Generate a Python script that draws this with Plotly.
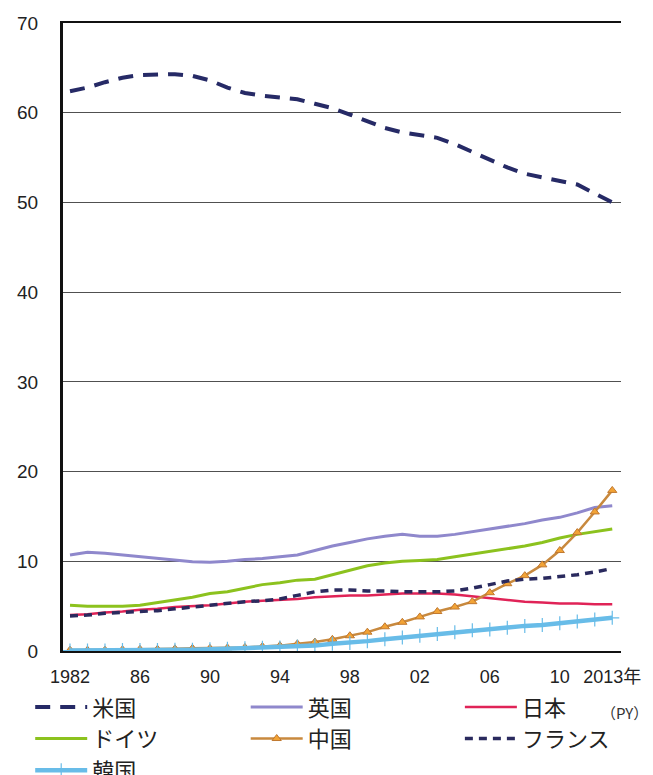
import plotly.graph_objects as go

# share of world TFP (%), 1982-2013
years = list(range(1982, 2014))

us = [62.4, 62.8, 63.4, 63.9, 64.2, 64.3, 64.3, 64.1, 63.6, 62.8, 62.2, 61.9, 61.7, 61.5, 61.0, 60.5,
      59.8, 59.1, 58.3, 57.8, 57.5, 57.2, 56.5, 55.6, 54.8, 53.9, 53.2, 52.8, 52.5, 52.0, 51.0, 50.0]
uk = [10.7, 11.0, 10.9, 10.7, 10.5, 10.3, 10.1, 9.95, 9.9, 10.0, 10.2, 10.3, 10.5, 10.7, 11.2, 11.7,
      12.1, 12.5, 12.8, 13.0, 12.8, 12.8, 13.0, 13.3, 13.6, 13.9, 14.2, 14.6, 14.9, 15.4, 16.0, 16.2]
japan = [4.0, 4.1, 4.3, 4.4, 4.6, 4.7, 4.9, 5.0, 5.1, 5.3, 5.5, 5.6, 5.7, 5.8, 6.0, 6.1,
         6.2, 6.2, 6.3, 6.4, 6.4, 6.4, 6.3, 6.1, 5.9, 5.7, 5.5, 5.4, 5.3, 5.3, 5.2, 5.2]
germany = [5.1, 5.0, 5.0, 5.0, 5.1, 5.4, 5.7, 6.0, 6.4, 6.6, 7.0, 7.4, 7.6, 7.9, 8.0, 8.5,
           9.0, 9.5, 9.8, 10.0, 10.1, 10.2, 10.5, 10.8, 11.1, 11.4, 11.7, 12.1, 12.6, 13.0, 13.3, 13.6]
china = [0.1, 0.1, 0.1, 0.15, 0.2, 0.2, 0.25, 0.3, 0.3, 0.35, 0.4, 0.5, 0.6, 0.8, 1.0, 1.3,
         1.7, 2.1, 2.7, 3.2, 3.8, 4.4, 4.9, 5.5, 6.5, 7.5, 8.4, 9.6, 11.2, 13.2, 15.5, 17.9]
france = [3.9, 4.0, 4.2, 4.3, 4.4, 4.5, 4.7, 4.9, 5.1, 5.3, 5.5, 5.6, 5.8, 6.2, 6.6, 6.8,
          6.8, 6.7, 6.7, 6.6, 6.6, 6.6, 6.7, 7.0, 7.4, 7.8, 8.0, 8.1, 8.3, 8.5, 8.8, 9.2]
korea = [0.05, 0.05, 0.05, 0.1, 0.1, 0.1, 0.15, 0.15, 0.2, 0.25, 0.3, 0.35, 0.4, 0.5, 0.6, 0.8,
         0.9, 1.1, 1.3, 1.5, 1.7, 1.9, 2.1, 2.3, 2.4, 2.6, 2.8, 2.9, 3.1, 3.3, 3.5, 3.7]

tick_years = [1982, 1986, 1990, 1994, 1998, 2002, 2006, 2010, 2013]
tick_text = ["1982", "86", "90", "94", "98", "02", "06", "10", "2013年"]

FONT = "Liberation Sans, Arial, Noto Sans CJK JP"
JP = "Noto Sans CJK JP"

fig = go.Figure()
# legend columns: legend = left, legend2 = middle, legend3 = right
fig.add_trace(go.Scatter(x=years, y=us, name="米国", mode="lines", legend="legend",
                         line=dict(color="#262A66", width=4, dash="15px,10px")))
fig.add_trace(go.Scatter(x=years, y=uk, name="英国", mode="lines", legend="legend2",
                         line=dict(color="#8F88CC", width=3)))
fig.add_trace(go.Scatter(x=years, y=japan, name="日本", mode="lines", legend="legend3",
                         line=dict(color="#E02357", width=2.5)))
fig.add_trace(go.Scatter(x=years, y=germany, name="ドイツ", mode="lines", legend="legend",
                         line=dict(color="#8CC21E", width=3)))
fig.add_trace(go.Scatter(x=years, y=china, name="中国", mode="lines+markers", legend="legend2",
                         line=dict(color="#C8893E", width=2.5),
                         marker=dict(symbol="triangle-up", size=8, color="#F2A335",
                                     line=dict(color="#C07830", width=1))))
fig.add_trace(go.Scatter(x=years, y=france, name="フランス", mode="lines", legend="legend3",
                         line=dict(color="#2A2A5E", width=3.5, dash="8px,6px")))
fig.add_trace(go.Scatter(x=years, y=korea, name="韓国", mode="lines+markers", legend="legend",
                         line=dict(color="#68BCE8", width=4.5),
                         marker=dict(symbol="cross-thin-open", size=10,
                                     line=dict(color="#5AAFE0", width=1.2))))

fig.add_annotation(text="（PY）", xref="paper", yref="paper", x=1.006, y=-0.098,
                   xanchor="center", yanchor="middle",
                   showarrow=False, font=dict(family=JP, size=15, color="#333"))

leg = dict(orientation="v", xref="container", yref="container", y=0.125,
           xanchor="left", yanchor="top", itemwidth=52, tracegroupgap=0,
           bgcolor="rgba(0,0,0,0)", font=dict(family=JP, size=22, color="#222"))

fig.update_layout(
    width=653, height=775,
    margin=dict(l=55, r=40, t=15, b=132, autoexpand=False),
    plot_bgcolor="white", paper_bgcolor="white",
    font=dict(family=FONT, size=18, color="#222"),
    legend=dict(leg, x=0.034),
    legend2=dict(leg, x=0.364),
    legend3=dict(leg, x=0.692),
    xaxis=dict(range=[1981.6, 2013.5], tickvals=tick_years, ticktext=tick_text,
               showgrid=False, zeroline=False, showline=True, mirror=True,
               linecolor="#111", linewidth=2, ticks="",
               ticklabelstandoff=8, tickfont=dict(size=18)),
    yaxis=dict(range=[0, 70], dtick=10, showgrid=True, gridcolor="#505050", gridwidth=1.4,
               zeroline=True, zerolinecolor="#111", zerolinewidth=2,
               showline=True, linecolor="#111", linewidth=3, ticks="",
               ticklabelstandoff=18, tickfont=dict(size=19)),
)

fig.write_html("out.html")
